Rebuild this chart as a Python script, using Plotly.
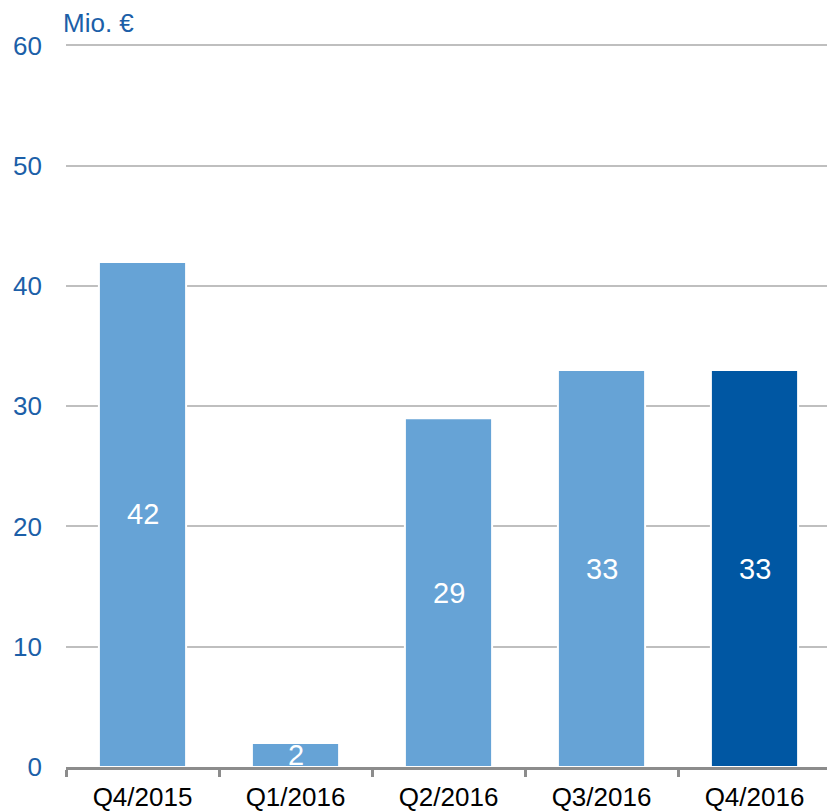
import plotly.graph_objects as go

quarters = ["Q4/2015", "Q1/2016", "Q2/2016", "Q3/2016", "Q4/2016"]
values = [42, 2, 29, 33, 33]
bar_colors = ["#66a3d6", "#66a3d6", "#66a3d6", "#66a3d6", "#0057a3"]
y_ticks = [0, 10, 20, 30, 40, 50, 60]

font_name = "Liberation Sans, Arial, sans-serif"
blue_text = "#1c5fa8"

fig = go.Figure()
fig.add_trace(
    go.Bar(
        x=quarters,
        y=values,
        width=0.57,
        marker_color=bar_colors,
        marker_line_color="white",
        marker_line_width=2,
        hoverinfo="x+y",
    )
)

# value labels in the middle of each bar
for q, v in zip(quarters, values):
    fig.add_annotation(
        x=q, y=v / 2, text=str(v), showarrow=False,
        font=dict(family=font_name, size=29, color="white"),
    )

fig.add_annotation(
    xref="paper", yref="paper", x=0, y=1, xanchor="left", yanchor="bottom",
    xshift=-5, yshift=3, text="Mio. €", showarrow=False,
    font=dict(family=font_name, size=26, color=blue_text),
)

fig.update_xaxes(
    showline=True, linecolor="#8c8c8c", linewidth=3,
    ticks="outside", tickson="boundaries", ticklen=7, tickwidth=3, tickcolor="#8c8c8c",
    tickfont=dict(family=font_name, size=26, color="black"),
    ticklabelstandoff=5,
    showgrid=False,
)
# range a bit above 60 so the top gridline isn't clipped at the plot edge
fig.update_yaxes(
    range=[0, 60.2], tickvals=y_ticks,
    showgrid=True, gridcolor="#bfbfbf", gridwidth=2,
    zeroline=False, showline=False,
    tickfont=dict(family=font_name, size=26, color=blue_text),
    ticklabelstandoff=23,
)
# plot area runs slightly past the right edge of the window, like the original
fig.update_layout(
    width=831, height=812,
    margin=dict(l=66, r=0, t=43, b=43),
    plot_bgcolor="white", paper_bgcolor="white",
    showlegend=False, bargap=0.43,
)

# drop the default 8px body margin so the figure sits at the window corner
fig.write_html(
    "out.html",
    config={"displayModeBar": False},
    post_script="document.body.style.margin='0';",
)
